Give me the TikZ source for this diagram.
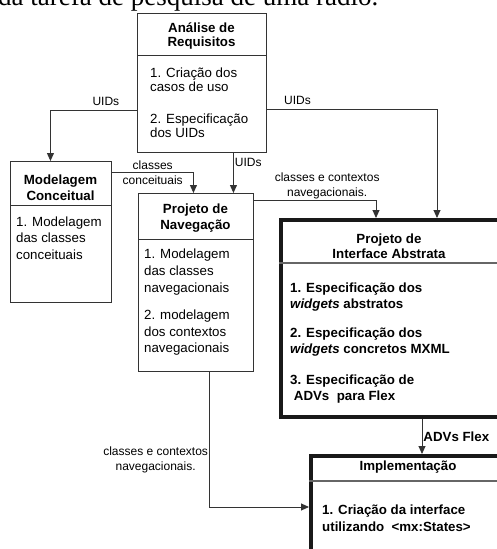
\documentclass[tikz,border=0pt]{standalone}
\usepackage{fontspec}
\setmainfont{Liberation Sans}
\newfontfamily\serifa{Liberation Serif}
\usetikzlibrary{positioning,arrows.meta}
\definecolor{linha}{HTML}{333333}
\tikzset {
    style box/.style={
        draw=linha,
        line width=0.9pt,
        rectangle, % Set the shape as a rectangle
        anchor=north west,
        inner sep=0pt,
    },
    style bold box/.style={
        draw=black!90,
        line width=4pt,
        rectangle, % Set the shape as a rectangle
        anchor=north west,
        inner sep=0pt,
    },
    style title/.style={
        font=\fontsize{13.3}{16}\selectfont\bfseries,
        align=center,
        inner sep=0pt,
    },
    style item/.style={
        font=\fontsize{13.3}{16.5}\selectfont,
        align=left,
        anchor=west,
        inner sep=0pt,
    },
    style label/.style={
        font=\fontsize{12}{15}\selectfont,
        align=center,
        inner sep=1pt,
    },
    style arrow/.style={
        draw=linha,
        line width=0.9pt,
        -{Triangle[width=7pt,length=8pt]},
    },
}

\begin{document}
\begin{tikzpicture}[x=1pt, y=-1pt]
        \useasboundingbox (0,0) rectangle (497,549);

        \node[anchor=base west, inner sep=0pt, font=\fontsize{27}{30}\selectfont\serifa] (caption) at (-2,5.5) {da tarefa de pesquisa de uma rádio.};

        % boxes
        \node[style box, minimum width=129pt, minimum height=139pt] (req) at (137,13) {};
        \node[style box, minimum width=101pt, minimum height=141pt] (conc) at (10,161) {};
        \node[style box, minimum width=115pt, minimum height=178pt] (nav) at (138,193) {};
        \node[style bold box, minimum width=220pt, minimum height=197pt] (abs) at (279,218) {};
        \node[style bold box, minimum width=198pt, minimum height=146pt] (impl) at (309,454) {};
        \draw[linha, line width=0.9pt] (req.west |- 0,55) -- (req.east |- 0,55);
        \draw[linha, line width=0.9pt] (conc.west |- 0,205) -- (conc.east |- 0,205);
        \draw[linha, line width=0.9pt] (nav.west |- 0,239) -- (nav.east |- 0,239);
        \draw[black!60, line width=1.5pt] (abs.west |- 0,263) -- (abs.east |- 0,263);
        \draw[black!60, line width=1.5pt] (impl.west |- 0,481) -- (impl.east |- 0,481);

        \node[style title, font=\fontsize{13.3}{14}\selectfont\bfseries] (reqtitle) at (201.5,36) {Análise de\\Requisitos};
        \node[style item, font=\fontsize{13.3}{14}\selectfont] (req1) at (150,80) {1. Criação dos\\casos de uso};
        \node[style item, font=\fontsize{13.3}{14}\selectfont] (req2) at (150,126) {2. Especificação\\dos UIDs};

        \node[style title] (conctitle) at (60.5,188) {Modelagem\\Conceitual};
        \node[style item] (conc1) at (16,238) {1. Modelagem\\das classes\\conceituais};

        \node[style title] (navtitle) at (195.5,218) {Projeto de\\Navegação};
        \node[style item, font=\fontsize{13.3}{17}\selectfont] (nav1) at (144,272) {1. Modelagem\\das classes\\navegacionais};
        \node[style item] (nav2) at (144,333) {2. modelagem\\dos contextos\\navegacionais};

        \node[style title, font=\fontsize{13.3}{15}\selectfont\bfseries] (abstitle) at (389,246) {Projeto de\\Interface Abstrata};
        \node[style item, font=\fontsize{13.3}{16}\selectfont\bfseries] (abs1) at (290,297) {1. Especificação dos\\\textit{widgets} abstratos};
        \node[style item, font=\fontsize{13.3}{16}\selectfont\bfseries] (abs2) at (290,342) {2. Especificação dos\\\textit{widgets} concretos MXML};
        \node[style item, font=\fontsize{13.3}{16}\selectfont\bfseries] (abs3) at (290,389) {3. Especificação de\\\ ADVs\ \ para Flex};

        \node[style title] (impltitle) at (408,467) {Implementação};
        \node[style item, font=\fontsize{13.3}{17}\selectfont\bfseries] (impl1) at (322,518) {1. Criação da interface\\utilizando\ \ <mx:States>};

        % connectors
        \draw[style arrow] ([yshift=-27.5pt]req.west) -| node[style label, pos=0.18, above=3pt] (uidsa) {UIDs} ([xshift=-10.5pt]conc.north);
        \draw[style arrow] ([yshift=-26.5pt]req.east) -| node[style label, pos=0.09, above=3pt] (uidsb) {UIDs} ([xshift=46pt]abs.north);
        \draw[style arrow] ([xshift=31.5pt]req.south) -- node[style label, pos=0.25, right] (uidsc) {UIDs} ([xshift=37.5pt]nav.north);
        \draw[style arrow] ([yshift=59.5pt]conc.east) -| node[style label, pos=0.25] (classesa) {classes\\conceituais} ([xshift=-2.5pt]nav.north);
        \draw[style arrow] ([yshift=82pt]nav.east) -| node[style label, pos=0.3, above] (classesb) {classes e contextos\\navegacionais.} ([xshift=-15pt]abs.north);
        \draw[style arrow] ([xshift=31pt]abs.south) -- node[style label, midway, right, font=\fontsize{13.3}{15}\selectfont\bfseries] (advs) {ADVs Flex} ([xshift=12pt]impl.north);
        \draw[style arrow] ([xshift=13.5pt]nav.south) |- node[style label, pos=0.325, left] (classesc) {classes e contextos\\navegacionais.} ([yshift=22pt]impl.west);
\end{tikzpicture}
\end{document}
